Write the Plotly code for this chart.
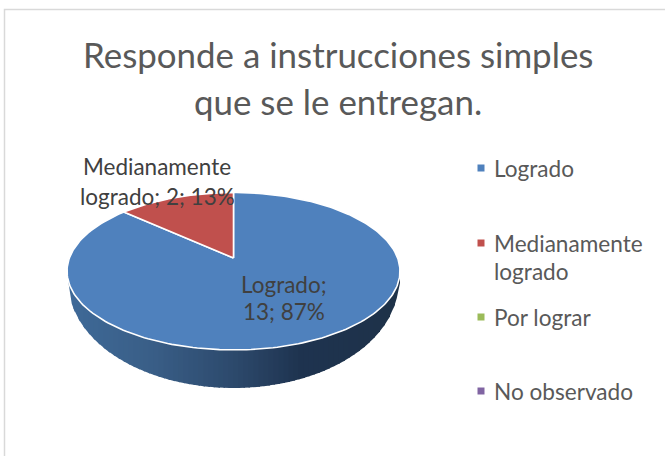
import numpy as np
import plotly.graph_objects as go

categories = ["Logrado", "Medianamente<br>logrado", "Por lograr", "No observado"]
values = [13, 2, 0, 0]
colors = ["#4F81BD", "#C0504D", "#9BBB59", "#8064A2"]
title_lines = "Responde a instrucciones simples<br>que se le entregan."
label_lines = ["Logrado;<br>13; 87%", "Medianamente<br>logrado; 2; 13%"]

W, H = 665, 456
FONT = "Lato"
CX, CY = 233.5, 258.0
A, B, K = 164.1, 76.5, 0.168
LOW_CY, LOW_RX, LOW_RY = 283.0, 165.0, 105.0


def rim(theta):
    u, v = np.sin(theta), np.cos(theta)
    w = 1 + K * v
    return CX + A * u / w, CY - B * v / w


fig = go.Figure()

# side wall, shaded left to right
stops_x = [67, 150, 233, 300, 400]
stops_r = [0x3F, 0x3A, 0x2D, 0x1F, 0x1E]
stops_g = [0x6A, 0x5F, 0x4A, 0x34, 0x32]
stops_b = [0x98, 0x88, 0x6D, 0x50, 0x49]
xs = np.linspace(68.5, 398.5, 67)
t0 = np.arccos(-K)
th = np.linspace(t0, 2 * np.pi - t0, 800)
rx, ry = rim(th)
order = np.argsort(rx)
for x0, x1 in zip(xs[:-1], xs[1:]):
    g = np.linspace(x0, x1 + 1.5, 3)
    top = np.interp(g, rx[order], ry[order])
    low = LOW_CY + LOW_RY * np.sqrt(np.clip(1 - ((g - CX) / LOW_RX) ** 2, 0, 1))
    m = (x0 + x1) / 2
    c = "rgb(%d,%d,%d)" % (np.interp(m, stops_x, stops_r), np.interp(m, stops_x, stops_g), np.interp(m, stops_x, stops_b))
    fig.add_trace(go.Scatter(
        x=list(g) + list(g[::-1]), y=list(top - 3) + list(low[::-1]),
        mode="lines", fill="toself", fillcolor=c, line=dict(width=0),
        hoverinfo="skip", showlegend=False))

# top face slices, clockwise from 12 o'clock
total = sum(values)
start = 0.0
for name, val, col in zip(categories, values, colors):
    if val == 0:
        continue
    end = start + 2 * np.pi * val / total
    t = np.linspace(start, end, 240)
    ex, ey = rim(t)
    fig.add_trace(go.Scatter(
        x=[CX] + list(ex) + [CX], y=[CY] + list(ey) + [CY],
        mode="lines", fill="toself", fillcolor=col, line=dict(color="white", width=1.6),
        name=name.replace("<br>", " "), hoverinfo="name", showlegend=False))
    start = end

fig.update_layout(
    width=W, height=H, margin=dict(l=0, r=0, t=0, b=0), autosize=False,
    paper_bgcolor="white", plot_bgcolor="white", showlegend=False,
    xaxis=dict(range=[0, W], visible=False, fixedrange=True),
    yaxis=dict(range=[H, 0], visible=False, fixedrange=True),
    shapes=[dict(type="rect", xref="x", yref="y", x0=4.5, y0=9.5, x1=W + 5, y1=H + 5,
                 line=dict(color="#D9D9D9", width=1.5), layer="below")],
)


def note(x, y, text, size, color, pitch, anchor="center"):
    for i, line in enumerate(text.split("<br>")):
        fig.add_annotation(x=x, y=y + i * pitch, xref="x", yref="y", text=line, showarrow=False,
                           font=dict(family=FONT, size=size, color=color),
                           xanchor=anchor, yanchor="middle")


note(337.5, 54, title_lines, 34.9, "#595959", 47)
note(284, 284, label_lines[0], 22.5, "#404040", 27)
note(157, 166, label_lines[1], 22.5, "#404040", 30)

legend_y = [168, 243, 317, 391]
for name, col, y in zip(categories, colors, legend_y):
    fig.add_trace(go.Scatter(x=[481], y=[y], mode="markers",
                             marker=dict(symbol="square", size=7, color=col),
                             hoverinfo="skip", showlegend=False))
    note(491.5, y, name, 22.6, "#595959", 28, anchor="left")

fig.write_html("out.html", config=dict(displayModeBar=False),
               post_script="document.body.style.margin='0';document.documentElement.style.overflow='hidden';")
